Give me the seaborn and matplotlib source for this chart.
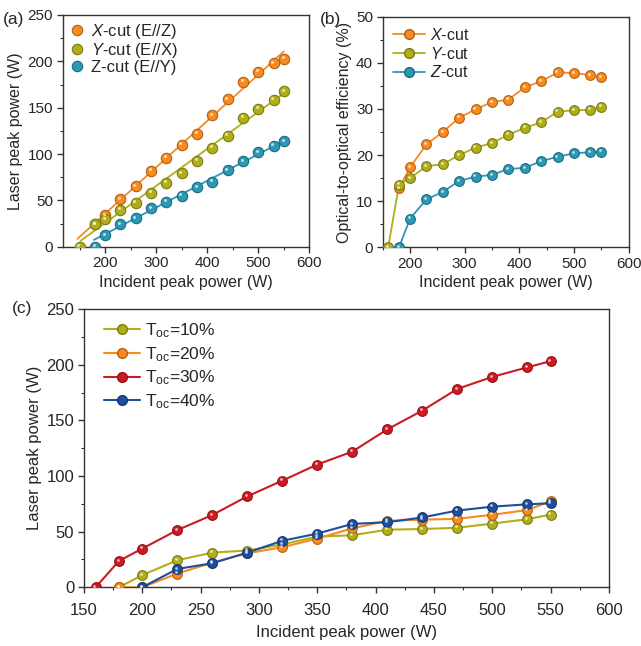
import numpy as np
import matplotlib
matplotlib.use("Agg")
import matplotlib.pyplot as plt
import matplotlib.transforms as mtransforms
from matplotlib.ticker import AutoMinorLocator
import seaborn as sns

# --- data ---
# (a) laser peak power vs incident peak power, three crystal cuts
pin_x = [180, 200, 230, 260, 290, 320, 350, 380, 410, 440, 470, 500, 530, 550]
pin_y = [150, 180, 200, 230, 260, 290, 320, 350, 380, 410, 440, 470, 500, 530, 550]
pin_z = [180, 200, 230, 260, 290, 320, 350, 380, 410, 440, 470, 500, 530, 550]
pout_x = [24.5, 34, 51, 65, 82, 96, 110, 122, 142, 159, 178, 189, 198, 203]
pout_y = [0, 24, 29.5, 40, 47.5, 58, 69, 79, 93, 107, 119.5, 139, 149, 158.5, 168]
pout_z = [0, 12.5, 24, 31, 41.7, 48.6, 55, 64.4, 70, 82.4, 92, 102, 109, 114]
fit_start = [146, 152, 178]

# (b) optical-to-optical efficiency
eff_pin_x = [180, 200, 230, 260, 290, 320, 350, 380, 410, 440, 470, 500, 530, 550]
eff_pin_y = [160, 180, 200, 230, 260, 290, 320, 350, 380, 410, 440, 470, 500, 530, 550]
eff_pin_z = [180, 200, 230, 260, 290, 320, 350, 380, 410, 440, 470, 500, 530, 550]
eff_x = [12.8, 17.3, 22.3, 25.0, 28.1, 29.9, 31.5, 32.0, 34.7, 36.0, 37.9, 37.8, 37.3, 36.9]
eff_y = [0, 13.6, 15.0, 17.6, 18.0, 20.0, 21.6, 22.6, 24.4, 25.9, 27.1, 29.4, 29.7, 29.8, 30.5]
eff_z = [0, 6.2, 10.4, 12.0, 14.4, 15.3, 15.7, 17.0, 17.2, 18.7, 19.6, 20.4, 20.6, 20.7]

# (c) output coupler transmission
toc_labels = ["10%", "20%", "30%", "40%"]
toc_pin = [
    [180, 200, 230, 260, 290, 320, 350, 380, 410, 440, 470, 500, 530, 550],
    [180, 200, 230, 260, 290, 320, 350, 380, 410, 440, 470, 500, 530, 550],
    [160, 180, 200, 230, 260, 290, 320, 350, 380, 410, 440, 470, 500, 530, 550],
    [200, 230, 260, 290, 320, 350, 380, 410, 440, 470, 500, 530, 550],
]
toc_pout = [
    [0, 11, 24.3, 31.2, 33, 38.5, 45.6, 46.8, 51.8, 52.4, 53.5, 57.3, 61.2, 65.4],
    [0, 0, 12.3, 22.2, 30.6, 36, 43.8, 53, 59.8, 60.8, 61.6, 65.2, 69.5, 77.4],
    [0, 23.7, 34.8, 51.4, 65, 81.8, 95.9, 110.4, 122, 142, 158.9, 178.4, 189.2, 197.8, 203.4],
    [0, 16.5, 21.6, 31.2, 41.8, 48.3, 57, 58.5, 62.8, 69, 72.5, 74.6, 75.6],
]

ORANGE = "#F98A1F"
OLIVE = "#B0AF1A"
TEAL = "#2B98B6"
RED = "#CC1B22"
NAVY = "#1E4E9E"

sns.set_style("ticks")
plt.rcParams["font.family"] = ["Liberation Sans", "DejaVu Sans"]
plt.rcParams["mathtext.fontset"] = "custom"
plt.rcParams["mathtext.rm"] = "Liberation Sans"
plt.rcParams["mathtext.it"] = "Liberation Sans:italic"
plt.rcParams["axes.edgecolor"] = "#333333"
plt.rcParams["axes.linewidth"] = 1.0


def darker(c, f=0.7):
    r, g, b = matplotlib.colors.to_rgb(c)
    return (r * f, g * f, b * f)


def balls(ax, x, y, color, ms, label=None):
    # shaded sphere look: base marker + small offset highlight
    ax.plot(x, y, "o", ms=ms, mfc=color, mec=darker(color), mew=0.8,
            ls="none", label=label, zorder=4)
    hl = mtransforms.offset_copy(ax.transData, fig=ax.figure, x=-ms * 0.12, y=ms * 0.14, units="points")
    ax.plot(x, y, "o", ms=ms * 0.28, mfc="white", mec="none", alpha=0.7,
            transform=hl, zorder=5)


def style_axis(ax, fs, xpad=3):
    ax.xaxis.set_minor_locator(AutoMinorLocator(2))
    ax.yaxis.set_minor_locator(AutoMinorLocator(2))
    ax.tick_params(which="major", direction="out", length=4, width=1, labelsize=fs,
                   color="#333333", top=False, right=False, pad=3)
    ax.tick_params(axis="x", which="major", pad=xpad)
    ax.tick_params(which="minor", direction="out", length=2.2, width=0.8,
                   color="#333333", top=False, right=False)
    for s in ax.spines.values():
        s.set_visible(True)


fig = plt.figure(figsize=(6.41, 6.46), dpi=100)
ax_a = fig.add_axes([0.0978, 0.6181, 0.3847, 0.3587])
ax_b = fig.add_axes([0.5970, 0.6172, 0.3838, 0.3570])
ax_c = fig.add_axes([0.1310, 0.0909, 0.8190, 0.4303])

# ---- (a) ----
series_a = [
    (pin_x, pout_x, ORANGE, "$\\it{X}$-cut (E//Z)", fit_start[0]),
    (pin_y, pout_y, OLIVE, "$\\it{Y}$-cut (E//X)", fit_start[1]),
    (pin_z, pout_z, TEAL, "Z-cut (E//Y)", fit_start[2]),
]
for xs, ys, col, lab, x0 in series_a:
    xs = np.array(xs, float)
    ys = np.array(ys, float)
    m = ys > 0
    k, b = np.polyfit(xs[m], ys[m], 1)
    xf = np.array([x0, xs.max()])
    sns.lineplot(x=xf, y=k * xf + b, ax=ax_a, color=col, lw=1.3, legend=False, zorder=3)
    balls(ax_a, xs, ys, col, 7.5, label=lab)
ax_a.set_xlim(117, 600)
ax_a.set_ylim(0, 250)
ax_a.set_xticks([200, 300, 400, 500, 600])
ax_a.set_yticks([0, 50, 100, 150, 200, 250])
ax_a.set_xlabel("Incident peak power (W)", fontsize=11.5, labelpad=3)
ax_a.set_ylabel("Laser peak power (W)", fontsize=11.5, labelpad=3)
style_axis(ax_a, 11)
ax_a.legend(loc="upper left", frameon=False, fontsize=12, handletextpad=0.4,
            labelspacing=0.02, borderaxespad=0.15, handlelength=0.9,
            borderpad=0.25)
fig.text(0.004, 0.963, "(a)", fontsize=12.5)

# ---- (b) ----
series_b = [
    (eff_pin_x, eff_x, ORANGE, "$\\it{X}$-cut"),
    (eff_pin_y, eff_y, OLIVE, "$\\it{Y}$-cut"),
    (eff_pin_z, eff_z, TEAL, "$\\it{Z}$-cut"),
]
for xs, ys, col, lab in series_b:
    sns.lineplot(x=xs, y=ys, ax=ax_b, color=col, lw=1.3, legend=False, zorder=3)
    balls(ax_b, xs, ys, col, 7)
    ax_b.plot([], [], "-o", color=col, ms=7, mfc=col, mec=darker(col), lw=1.3, label=lab)
ax_b.set_xlim(150, 600)
ax_b.set_ylim(0, 50)
ax_b.set_xticks([200, 300, 400, 500, 600])
ax_b.set_yticks([0, 10, 20, 30, 40, 50])
ax_b.set_xlabel("Incident peak power (W)", fontsize=11.5, labelpad=3)
ax_b.set_ylabel("Optical-to-optical efficiency (%)", fontsize=11.5, labelpad=3)
style_axis(ax_b, 11)
ax_b.legend(loc="upper left", frameon=False, fontsize=11.5, handletextpad=0.3,
            labelspacing=0.16, borderaxespad=0.3, handlelength=2.0,
            borderpad=0.35)
fig.text(0.499, 0.963, "(b)", fontsize=12.5)

# ---- (c) ----
colors_c = [OLIVE, ORANGE, RED, NAVY]
for xs, ys, col, lab in zip(toc_pin, toc_pout, colors_c, toc_labels):
    sns.lineplot(x=xs, y=ys, ax=ax_c, color=col, lw=1.5, legend=False, zorder=3)
    balls(ax_c, xs, ys, col, 7)
    ax_c.plot([], [], "-o", color=col, ms=7, mfc=col, mec=darker(col), lw=1.5,
              label="T$_{\\mathrm{oc}}$=" + lab)
ax_c.set_xlim(150, 600)
ax_c.set_ylim(0, 250)
ax_c.set_xticks(np.arange(150, 601, 50))
ax_c.set_yticks([0, 50, 100, 150, 200, 250])
ax_c.set_xlabel("Incident peak power (W)", fontsize=12, labelpad=5)
ax_c.set_ylabel("Laser peak power (W)", fontsize=12, labelpad=3)
style_axis(ax_c, 12, xpad=7)
ax_c.legend(loc="upper left", bbox_to_anchor=(0.015, 1.0), frameon=False,
            fontsize=12.5, handletextpad=0.25, labelspacing=0.28,
            borderaxespad=0.3, handlelength=2.1, borderpad=0.4)
fig.text(0.018, 0.515, "(c)", fontsize=12.5)

fig.savefig("out.png", dpi=100)
